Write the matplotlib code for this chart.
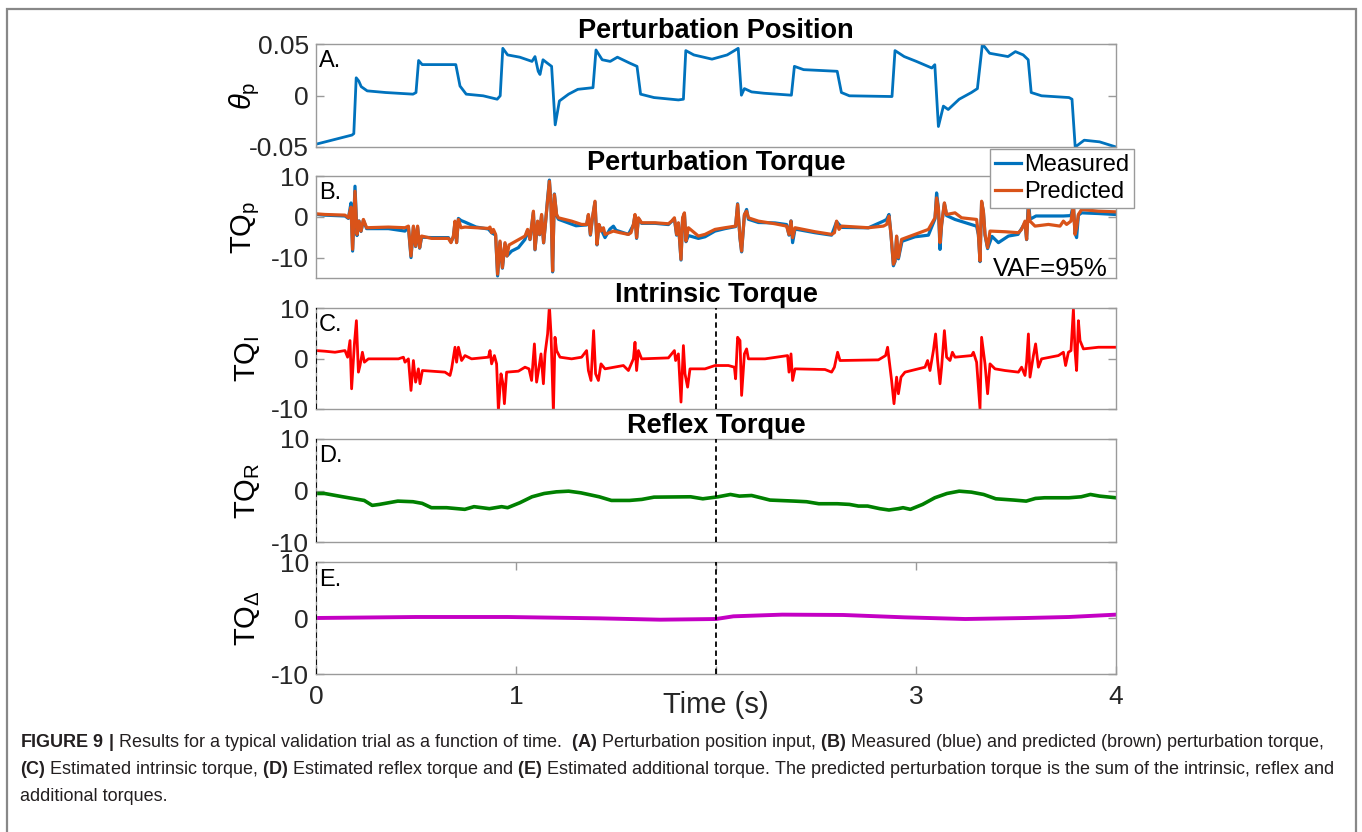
import matplotlib
matplotlib.use('Agg')
import matplotlib.pyplot as plt
from matplotlib import rcParams
from matplotlib.patches import Rectangle
from matplotlib.transforms import IdentityTransform

rcParams['font.family'] = ['Liberation Sans', 'DejaVu Sans']
rcParams['mathtext.fontset'] = 'custom'
rcParams['mathtext.rm'] = 'Liberation Sans'
rcParams['mathtext.it'] = 'Liberation Sans:italic'
rcParams['mathtext.bf'] = 'Liberation Sans:bold'
rcParams['axes.unicode_minus'] = False

# A. perturbation position (rad)
pos_t = [0.0, 0.180, 0.189, 0.201, 0.214, 0.226, 0.256, 0.348, 0.485, 0.500, 0.513, 0.531,
         0.699, 0.720, 0.751, 0.836, 0.906, 0.921, 0.934, 0.958, 1.019, 1.080, 1.095, 1.111,
         1.120, 1.135, 1.156, 1.178, 1.196, 1.217, 1.263, 1.309, 1.385, 1.400, 1.431, 1.471,
         1.507, 1.568, 1.605, 1.623, 1.690, 1.812, 1.837, 1.849, 1.889, 1.980, 2.056, 2.111,
         2.127, 2.142, 2.178, 2.240, 2.377, 2.392, 2.438, 2.606, 2.627, 2.667, 2.880, 2.895,
         2.941, 3.002, 3.079, 3.094, 3.112, 3.137, 3.161, 3.216, 3.277, 3.307, 3.332, 3.368,
         3.460, 3.497, 3.536, 3.561, 3.576, 3.628, 3.765, 3.780, 3.796, 3.841, 3.918, 4.0]
pos_v = [-0.0473, -0.0384, -0.037, 0.0172, 0.0140, 0.0086, 0.0045, 0.0029, 0.0013, 0.0029,
         0.034, 0.030, 0.030, 0.0092, 0.0013, -0.0003, -0.0036, -0.0003, 0.0458, 0.0394,
         0.0372, 0.0331, 0.0378, 0.0235, 0.0204, 0.0347, 0.0315, 0.0283, -0.0285, -0.0053,
         0.0013, 0.0060, 0.0076, 0.0442, 0.0347, 0.0331, 0.0372, 0.0315, 0.0283, 0.0013,
         -0.0020, -0.0043, -0.0036, 0.0436, 0.0394, 0.0353, 0.0394, 0.0458, 0.0003, 0.0067,
         0.0035, 0.0022, 0.0003, 0.0283, 0.0251, 0.0235, 0.0029, -0.0003, -0.0010, 0.0436,
         0.0378, 0.0331, 0.0267, 0.0299, -0.0301, -0.0103, -0.0136, -0.0036, 0.0029, 0.0067,
         0.050, 0.0410, 0.0378, 0.0426, 0.0394, 0.0347, 0.0029, -0.0003, -0.0020, -0.0036,
         -0.050, -0.0434, -0.0450, -0.050]

# B. predicted perturbation torque (Nm)
pred_t = [0.0, 0.045, 0.145, 0.162, 0.175, 0.183, 0.195, 0.205, 0.215, 0.225, 0.237, 0.253,
          0.362, 0.445, 0.462, 0.475, 0.487, 0.498, 0.508, 0.518, 0.528, 0.578, 0.662, 0.675,
          0.687, 0.695, 0.703, 0.712, 0.725, 0.745, 0.862, 0.870, 0.878, 0.887, 0.898, 0.908,
          0.920, 0.932, 0.945, 0.955, 0.965, 1.045, 1.058, 1.070, 1.087, 1.095, 1.108, 1.118,
          1.128, 1.138, 1.148, 1.158, 1.167, 1.175, 1.183, 1.192, 1.203, 1.212, 1.278, 1.328,
          1.353, 1.362, 1.372, 1.382, 1.395, 1.405, 1.415, 1.425, 1.437, 1.445, 1.487, 1.520,
          1.562, 1.575, 1.587, 1.595, 1.603, 1.612, 1.628, 1.695, 1.762, 1.778, 1.792, 1.803,
          1.812, 1.825, 1.833, 1.842, 1.850, 1.862, 1.912, 1.945,
          1.995, 2.045, 2.098, 2.108, 2.120, 2.128, 2.142, 2.153, 2.162, 2.212, 2.295, 2.353,
          2.365, 2.375, 2.383, 2.395, 2.495, 2.578, 2.592, 2.603, 2.615, 2.628, 2.762, 2.837,
          2.853, 2.865, 2.875, 2.887, 2.895, 2.903, 2.912, 2.928, 2.995, 3.062, 3.095, 3.103,
          3.112, 3.120, 3.128, 3.142, 3.153, 3.195, 3.228, 3.303, 3.312, 3.320, 3.328, 3.337,
          3.345, 3.358, 3.370, 3.445, 3.512, 3.528, 3.545, 3.553, 3.562, 3.570, 3.595, 3.662,
          3.720, 3.737, 3.753, 3.775, 3.787, 3.795, 3.803, 3.812, 3.828, 3.912, 3.995]
pred_v = [0.73, 0.57, 0.41, -0.25, 2.36, -7.97, 6.26, -4.31, -1.06, -3.5, -0.65, -2.68,
          -2.52, -2.68, -2.28, -9.6, -2.28, -7.16, -2.28, -7.56, -4.72, -5.29, -5.29, -6.34,
          -4.72, -1.06, -6.34, -0.65, -2.68, -2.52, -2.85, -2.52, -3.9, -3.09, -4.31, -14.07,
          -5.94, -12.44, -6.34, -9.6, -6.91, -4.72, -3.09, -5.53, 1.38, -7.97, -1.06, -4.31,
          0.57, -6.34, -1.06, 4.23, 8.70, 3.01, -13.25, 5.45, 0.57, -0.25, -1.06, -1.87,
          -1.87, 0.57, -4.31, -0.25, 3.82, -6.75, -1.87, -3.5, -2.68, -4.31, -3.5, -3.9,
          -4.31, -3.9, -1.87, 0.57, -5.12, -0.25, -1.46, -1.46, -1.71, -1.06, -0.25, -4.31,
          -1.46, -10.41, -0.25, 0.97, -5.94, -2.68, -4.72, -4.31,
          -3.09, -2.68, -2.28, 3.01, -5.12, -8.38, 0.57, 1.38, -0.25, -1.06, -1.71, -2.28,
          -4.31, -1.06, -5.12, -2.68, -3.66, -4.31, -3.9, -1.06, -3.09, -2.28, -2.68, -2.28,
          -1.87, 0.16, -4.31, -11.63, -10.81, -4.72, -10.0, -5.53, -4.31, -3.09, -0.25, 4.63,
          2.19, -6.34, -1.87, 3.41, 0.57, 0.97, -0.25, -0.65, -4.31, -10.81, 3.82, 1.38,
          -4.31, -7.56, -3.5, -3.66, -3.9, -3.09, -1.06, -5.53, 2.19, -1.06, -2.28, -1.87,
          -2.28, -1.06, -1.87, -1.06, 3.01, -4.31, -2.68, 0.57, 1.79, 1.38, 1.22]

# B. measured perturbation torque (Nm)
meas_t = [0.0, 0.045, 0.145, 0.162, 0.175, 0.183, 0.195, 0.205, 0.215, 0.225, 0.237, 0.253,
          0.362, 0.445, 0.462, 0.475, 0.487, 0.498, 0.508, 0.518, 0.528, 0.578, 0.662, 0.675,
          0.687, 0.695, 0.703, 0.712, 0.725, 0.745, 0.800, 0.862, 0.878, 0.898, 0.908, 0.920,
          0.932, 0.945, 0.955, 0.978, 1.012, 1.045, 1.058, 1.070, 1.087, 1.095, 1.108, 1.118,
          1.128, 1.138, 1.148, 1.158, 1.167, 1.175, 1.183, 1.192, 1.203, 1.212, 1.300, 1.353,
          1.362, 1.372, 1.382, 1.395, 1.405, 1.415, 1.445, 1.470, 1.487, 1.500, 1.562, 1.587,
          1.595, 1.603, 1.612, 1.628, 1.695, 1.762, 1.792, 1.803, 1.812, 1.825, 1.833, 1.842,
          1.850, 1.862, 1.912, 1.945,
          1.995, 2.045, 2.098, 2.108, 2.120, 2.128, 2.142, 2.153, 2.162, 2.212, 2.295, 2.353,
          2.365, 2.375, 2.383, 2.395, 2.495, 2.578, 2.603, 2.628, 2.762, 2.837, 2.853, 2.865,
          2.875, 2.887, 2.895, 2.903, 2.912, 2.930, 2.995, 3.062, 3.095, 3.103, 3.112, 3.120,
          3.128, 3.142, 3.153, 3.195, 3.250, 3.303, 3.312, 3.320, 3.328, 3.337, 3.345, 3.358,
          3.380, 3.412, 3.462, 3.510, 3.545, 3.553, 3.562, 3.570, 3.600, 3.662, 3.737, 3.775,
          3.787, 3.795, 3.803, 3.812, 3.828, 3.912, 3.995]
meas_v = [0.6, 0.4, 0.2, -0.4, 3.4, -8.4, 7.5, -4.6, -1.0, -3.6, -0.8, -2.9,
          -2.9, -3.5, -2.5, -10.0, -2.5, -7.3, -2.5, -7.7, -5.0, -5.1, -5.1, -6.2,
          -4.9, -1.3, -6.3, -0.4, -0.9, -1.3, -2.5, -3.0, -3.9, -4.5, -14.5, -6.2,
          -12.6, -6.6, -9.6, -8.4, -7.56, -5.53, -3.3, -5.6, 1.1, -8.1, -1.2, -4.4,
          0.4, -6.4, -1.3, 4.5, 9.0, 3.0, -13.5, 5.6, 0.3, -0.6, -2.2, -2.0,
          0.4, -4.5, -0.5, 3.6, -6.9, -2.0, -5.1, -3.0, -2.3, -3.3, -4.3, -2.0,
          0.3, -5.3, -0.4, -1.6, -1.6, -1.9, -0.5, -4.5, -1.6, -10.6, -0.5, 0.8,
          -6.1, -4.6, -5.3, -4.9,
          -3.5, -2.9, -2.4, 3.2, -5.3, -8.6, 0.4, 1.8, -0.6, -1.4, -1.5, -1.9,
          -4.5, -1.0, -6.34, -3.0, -3.9, -4.5, -1.2, -2.6, -2.7, -1.06, -0.65, 0.57,
          -4.4, -12.0, -11.0, -4.9, -10.3, -6.0, -4.9, -4.5, -0.5, 5.85,
          2.1, -8.0, -2.0, 3.3, 0.3, -0.65, -1.5, -2.3, -4.4, -11.0, 3.6, 1.2,
          -4.5, -7.8, -4.8, -6.34, -4.72, -4.31, -1.5, -5.6, 4.2, -0.6, 0.2, 0.2, 0.2, 0.3,
          3.0, -4.0, -5.1, 0.4, 0.97, 0.8, 0.57]

# C. intrinsic torque (Nm)
int_t = [0.0, 0.045, 0.095, 0.145, 0.158, 0.170, 0.178, 0.192, 0.202, 0.212, 0.220, 0.232,
         0.242, 0.262, 0.412, 0.437, 0.445, 0.462, 0.475, 0.487, 0.498, 0.512, 0.520, 0.532,
         0.645, 0.670, 0.678, 0.695, 0.703, 0.712, 0.728, 0.745, 0.778, 0.862, 0.870, 0.878,
         0.892, 0.903, 0.912, 0.925, 0.935, 0.942, 0.953, 1.012, 1.045, 1.065, 1.078, 1.092,
         1.103, 1.115, 1.125, 1.137, 1.145, 1.158, 1.167, 1.175, 1.187, 1.195, 1.203, 1.220,
         1.278, 1.328, 1.353, 1.362, 1.375, 1.388, 1.398, 1.412, 1.425, 1.445, 1.537, 1.562,
         1.587, 1.595, 1.603, 1.612, 1.628, 1.762, 1.778, 1.792, 1.798, 1.812, 1.825, 1.837,
         1.845, 1.858, 1.870, 1.945,
         1.995, 2.062, 2.092, 2.098, 2.108, 2.120, 2.128, 2.142, 2.153, 2.162, 2.245, 2.358,
         2.365, 2.375, 2.383, 2.395, 2.545, 2.578, 2.592, 2.608, 2.620, 2.812, 2.848, 2.858,
         2.870, 2.878, 2.890, 2.903, 2.912, 2.925, 2.945, 3.045, 3.058, 3.070, 3.087, 3.098,
         3.108, 3.120, 3.128, 3.142, 3.153, 3.170, 3.182, 3.195, 3.278, 3.287, 3.303, 3.320,
         3.328, 3.345, 3.358, 3.370, 3.395, 3.445, 3.512, 3.528, 3.545, 3.553, 3.562, 3.570,
         3.587, 3.598, 3.612, 3.628, 3.712, 3.737, 3.748, 3.762, 3.775, 3.787, 3.795, 3.803,
         3.812, 3.820, 3.837, 3.912, 3.995]
int_v = [1.57, 1.44, 1.24, 1.57, 0.26, 3.55, -6.0, 2.89, 7.49, -2.7, -1.39, 1.24,
         -0.73, -0.07, -0.07, 0.26, -0.73, -0.07, -6.32, -0.4, -4.68, -2.05, -5.0, -2.38,
         -2.7, -3.36, -2.05, 2.23, -0.73, 2.23, -0.4, 0.58, -0.07, 0.26, 1.57, -1.06,
         0.58, -1.06, -10.27, -3.03, -5.0, -8.95, -2.7, -2.51, -1.72, -2.05, -4.35, 2.89,
         -4.68, -1.72, 0.91, -5.0, 0.91, 4.86, 10.45, 4.86, -10.6, 4.2, 1.57, 0.26,
         -0.07, 0.26, 1.57, -2.38, -4.35, 5.52, -3.03, -4.35, -1.06, -2.05, -1.39, -2.38,
         -0.07, 3.22, -2.38, 1.57, -0.07, 0.12, 0.91, 1.57, -0.4, 0.91, -8.63, 2.56,
         -3.03, -5.67, -2.05, -2.05,
         -1.39, -1.39, -1.72, -4.02, 4.2, 3.55, -7.31, 0.91, 1.9, -0.07, -0.07, 0.58,
         -2.7, 0.91, -4.35, -2.05, -2.18, -2.7, -1.72, 1.24, -0.4, -0.27, 0.58, 2.23,
         -1.72, -4.35, -8.95, -3.69, -6.98, -3.69, -2.7, -1.72, -0.4, -2.38, 1.57, 4.86,
         -0.4, -5.0, -1.72, 5.52, 0.26, -0.4, 1.24, 0.26, 0.58, 1.24, -0.73, -9.94,
         4.2, -1.06, -6.98, -1.06, -2.05, -2.38, -2.7, -1.72, -3.36, -0.73, 4.86, -3.69,
         0.58, 2.89, -1.72, -0.07, 0.58, 1.24, -1.39, 1.24, 1.57, 9.8, 1.57, -2.38,
         7.49, 3.55, 1.9, 2.23, 2.23]

# D. reflex torque (Nm)
ref_t = [0.0, 0.043, 0.134, 0.241, 0.281, 0.317, 0.409, 0.485, 0.531, 0.577, 0.653, 0.744,
         0.790, 0.867, 0.928, 0.958, 1.019, 1.080, 1.141, 1.202, 1.263, 1.324, 1.416, 1.477,
         1.568, 1.629, 1.690, 1.873, 1.934, 2.011, 2.072, 2.117, 2.178, 2.224, 2.270, 2.392,
         2.453, 2.514, 2.606, 2.667, 2.712, 2.758, 2.819, 2.865, 2.911, 2.935, 2.972, 3.033,
         3.094, 3.155, 3.216, 3.277, 3.338, 3.399, 3.490, 3.551, 3.597, 3.643, 3.765, 3.826,
         3.872, 3.918, 4.0]
ref_v = [-0.58, -0.58, -1.22, -1.93, -2.89, -2.7, -2.06, -2.18, -2.5, -3.34, -3.34, -3.66,
         -3.14, -3.53, -3.14, -3.34, -2.38, -1.22, -0.58, -0.26, -0.13, -0.45, -1.22, -1.93,
         -1.93, -1.73, -1.29, -1.22, -1.61, -1.22, -0.77, -1.09, -0.97, -1.41, -1.86, -2.06,
         -2.18, -2.57, -2.57, -2.7, -3.02, -3.02, -3.53, -3.79, -3.53, -3.34, -3.66, -2.7,
         -1.41, -0.58, -0.13, -0.32, -0.77, -1.61, -1.86, -2.06, -1.54, -1.41, -1.41, -1.22,
         -0.77, -1.09, -1.41]

# E. additional torque (Nm)
add_t = [0.0, 0.5, 0.958, 1.416, 1.721, 2.0, 2.087, 2.331, 2.636, 2.941, 3.246, 3.551, 3.765, 4.0]
add_v = [0.0, 0.18, 0.18, -0.06, -0.3, -0.18, 0.3, 0.6, 0.54, 0.12, -0.18, 0.0, 0.18, 0.6]

W, H = 1362, 832
fig = plt.figure(figsize=(W / 100, H / 100), dpi=100)

# outer frame of the figure panel (bottom edge runs off the canvas)
fig.patches.append(Rectangle((7, -10), 1349, 833, transform=IdentityTransform(),
                             fill=False, edgecolor='#888888', linewidth=1.6))

left, width = 316 / W, 800 / W
boxes = [(44, 147), (176, 278), (308, 409), (439, 542), (562, 674)]
axes = []
for top, bot in boxes:
    axes.append(fig.add_axes([left, 1 - bot / H, width, (bot - top) / H]))

grey = '#9a9a9a'
tick_fs = 19
title_fs = 19.5
for ax in axes:
    ax.set_xlim(0, 4)
    for s in ax.spines.values():
        s.set_color(grey)
        s.set_linewidth(1.0)
    ax.tick_params(axis='both', direction='in', length=6, width=1, color=grey,
                   labelsize=tick_fs, labelcolor='#262626', right=True, top=False, pad=5)
    ax.set_xticks([])

# A
ax = axes[0]
ax.plot(pos_t, pos_v, color='#0072BD', lw=2.0)
ax.set_ylim(-0.05, 0.05)
ax.set_yticks([-0.05, 0, 0.05], ['-0.05', '0', '0.05'])
ax.set_title('Perturbation Position', fontsize=title_fs, fontweight='bold', pad=0.5)
ax.set_ylabel(r'$\theta_{\mathrm{p}}$', fontsize=21)

# B
ax = axes[1]
ax.plot(meas_t, meas_v, color='#0072BD', lw=2.3, label='Measured')
ax.plot(pred_t, pred_v, color='#D95319', lw=2.3, label='Predicted')
ax.set_ylim(-15, 10)
ax.set_yticks([-10, 0, 10], ['-10', '0', '10'])
ax.set_title('Perturbation Torque', fontsize=title_fs, fontweight='bold', pad=3)
ax.set_ylabel(r'TQ$_{\mathrm{p}}$', fontsize=21)
ax.text(0.99, 0.015, 'VAF=95%', transform=ax.transAxes, ha='right', va='baseline',
        fontsize=18.5)
leg = ax.legend(loc='upper right', bbox_to_anchor=(1134 / W, 1 - 149 / H),
                bbox_transform=fig.transFigure, fontsize=17, frameon=True, fancybox=False,
                edgecolor=grey, framealpha=1, borderpad=0.22, labelspacing=0.2,
                handlelength=1.1, handletextpad=0.1, borderaxespad=0)
leg.get_frame().set_linewidth(1.0)
leg.set_zorder(10)

# C
ax = axes[2]
ax.plot(int_t, int_v, color='#FF0000', lw=2.0)
ax.set_ylim(-10, 10)
ax.set_yticks([-10, 0, 10], ['-10', '0', '10'])
ax.set_title('Intrinsic Torque', fontsize=title_fs, fontweight='bold', pad=3.5)
ax.set_ylabel(r'TQ$_{\mathrm{I}}$', fontsize=21)

# D
ax = axes[3]
ax.plot(ref_t, ref_v, color='#008000', lw=2.6)
ax.set_ylim(-10, 10)
ax.set_yticks([-10, 0, 10], ['-10', '0', '10'])
ax.set_title('Reflex Torque', fontsize=title_fs, fontweight='bold', pad=4)
ax.set_ylabel(r'TQ$_{\mathrm{R}}$', fontsize=21)

# E
ax = axes[4]
ax.plot(add_t, add_v, color='#C400C4', lw=2.8)
ax.set_ylim(-10, 10)
ax.set_yticks([-10, 0, 10], ['-10', '0', '10'])
ax.set_ylabel(r'TQ$_{\Delta}$', fontsize=21)
ax.set_xticks([0, 1, 2, 3, 4], ['0', '1', '', '3', '4'])
ax.tick_params(axis='x', top=True, pad=8)
ax.text(0.5, -0.28, 'Time (s)', transform=ax.transAxes, ha='center', va='center',
        fontsize=21, color='#262626')

for ax in axes[2:]:
    for x in (0, 2):
        ax.axvline(x, color='black', lw=1.3, ls=(0, (3, 2)), zorder=3)

for ax, lab in zip(axes, ['A.', 'B.', 'C.', 'D.', 'E.']):
    ax.text(0.004, 0.94, lab, transform=ax.transAxes, ha='left', va='top', fontsize=17)
    ax.yaxis.set_label_coords(-0.068, 0.5)

# caption
cap1 = (r'$\mathbf{FIGURE\ 9\ |}$ Results for a typical validation trial as a function of time.  '
        r'$\mathbf{(A)}$ Perturbation position input, $\mathbf{(B)}$ Measured (blue) and '
        r'predicted (brown) perturbation torque,')
cap2 = (r'$\mathbf{(C)}$ Estimated intrinsic torque, $\mathbf{(D)}$ Estimated reflex torque and '
        r'$\mathbf{(E)}$ Estimated additional torque. The predicted perturbation torque is the '
        r'sum of the intrinsic, reflex and')
cap3 = 'additional torques.'

renderer = fig.canvas.get_renderer()
t1 = fig.text(20, H - 747, cap1, transform=IdentityTransform(), fontsize=12,
              color='#231f20', va='baseline')
t2 = fig.text(20, H - 774, cap2, transform=IdentityTransform(), fontsize=12,
              color='#231f20', va='baseline')
t3 = fig.text(20, H - 801, cap3, transform=IdentityTransform(), fontsize=12,
              color='#231f20', va='baseline')
w1 = t1.get_window_extent(renderer).width
w2 = t2.get_window_extent(renderer).width
fs = 12 * min(1327 / w1, 1313 / w2)
for t in (t1, t2, t3):
    t.set_fontsize(fs)

fig.savefig('out.png', dpi=100)
